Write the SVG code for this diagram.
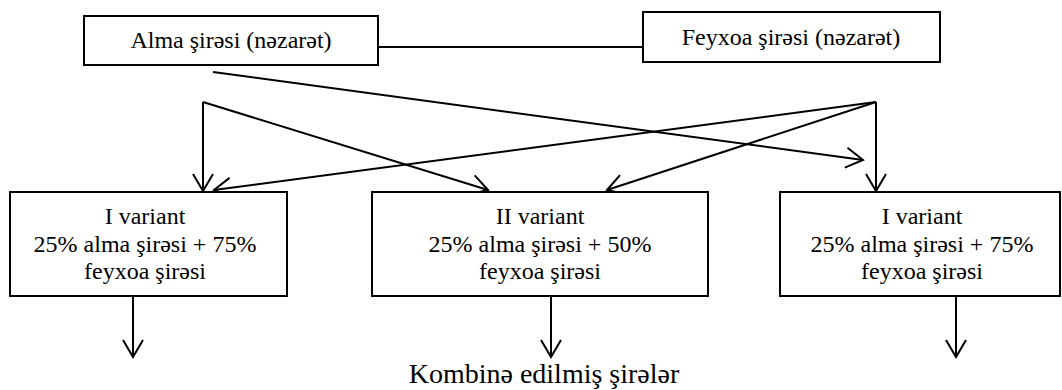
<svg xmlns="http://www.w3.org/2000/svg" width="1062" height="390" viewBox="0 0 1062 390">
<style>
  .box { fill: #fff; stroke: #000; stroke-width: 2; }
  .t { font-family: "Liberation Serif", "Times New Roman", "DejaVu Serif", serif; font-size: 24px; fill: #000; text-anchor: middle; }
  .big { font-size: 28px; }
  .ln { fill: none; stroke: #000; stroke-width: 2; }
  .ar { fill: none; stroke: #000; stroke-width: 2; marker-end: url(#arr); }
</style>
<defs>
  <marker id="arr" viewBox="0 0 20 22" markerWidth="20" markerHeight="22" refX="18" refY="11" orient="auto" markerUnits="userSpaceOnUse">
    <path d="M1,1 L18,11 L1,21" fill="none" stroke="#000" stroke-width="2"/>
  </marker>
</defs>
<rect width="1062" height="390" fill="#fff"/>
<g id="connectors">
  <line class="ln" x1="378" y1="47" x2="643" y2="47"/>
  <line class="ar" x1="213" y1="72" x2="863" y2="160"/>
  <line class="ar" x1="203" y1="102" x2="488" y2="190"/>
  <line class="ar" x1="203" y1="102" x2="203" y2="191"/>
  <line class="ar" x1="876" y1="102" x2="876" y2="191"/>
  <line class="ar" x1="876" y1="102" x2="214" y2="190"/>
  <line class="ar" x1="876" y1="102" x2="607" y2="190"/>
  <line class="ar" x1="133" y1="296" x2="133" y2="357"/>
  <line class="ar" x1="551" y1="296" x2="551" y2="357"/>
  <line class="ar" x1="956" y1="296" x2="956" y2="357"/>
</g>
<g id="alma">
  <rect class="box" x="84" y="16" width="294" height="49"/>
  <text class="t" x="231" y="48">Alma şirəsi (nəzarət)</text>
</g>
<g id="feyxoa">
  <rect class="box" x="643" y="12" width="297" height="50"/>
  <text class="t" x="791" y="45">Feyxoa şirəsi (nəzarət)</text>
</g>
<g id="variant1">
  <rect class="box" x="10" y="192" width="277" height="104"/>
  <text class="t" x="145" y="224">I variant</text>
  <text class="t" x="145" y="252">25% alma şirəsi + 75%</text>
  <text class="t" x="145" y="279">feyxoa şirəsi</text>
</g>
<g id="variant2">
  <rect class="box" x="372" y="192" width="336" height="104"/>
  <text class="t" x="540" y="224">II variant</text>
  <text class="t" x="540" y="252">25% alma şirəsi + 50%</text>
  <text class="t" x="540" y="279">feyxoa şirəsi</text>
</g>
<g id="variant3">
  <rect class="box" x="780" y="192" width="280" height="104"/>
  <text class="t" x="922" y="224">I variant</text>
  <text class="t" x="922" y="252">25% alma şirəsi + 75%</text>
  <text class="t" x="922" y="279">feyxoa şirəsi</text>
</g>
<g id="result">
  <text class="t big" x="544" y="383">Kombinə edilmiş şirələr</text>
</g>
</svg>
